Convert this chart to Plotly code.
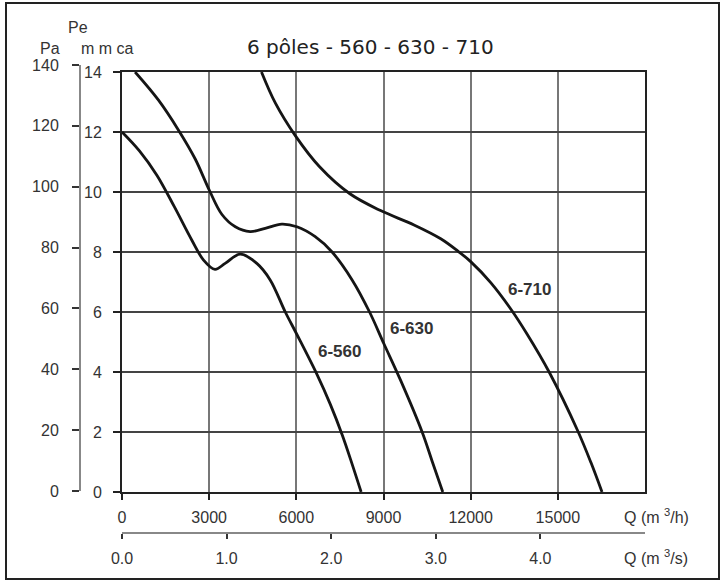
import plotly.graph_objects as go

# ---------------- data ----------------
q_560 = [0, 600, 1200, 1800, 2400, 2800, 3200, 3550, 4070, 4640, 5100, 5620, 6020, 6710, 7170, 7580, 7920, 8230]
p_560 = [12.0, 11.37, 10.56, 9.51, 8.4, 7.74, 7.42, 7.62, 7.93, 7.62, 7.07, 6.0, 5.25, 3.92, 2.92, 1.9, 0.93, 0.0]

q_630 = [450, 1250, 1940, 2520, 3010, 3440, 3900, 4410, 4930, 5500, 6020, 6650, 7230, 7920, 8520, 9010, 9590, 10330, 10680, 11040]
p_630 = [14.0, 13.07, 12.07, 11.1, 10.05, 9.25, 8.84, 8.68, 8.79, 8.93, 8.84, 8.51, 8.0, 7.07, 6.0, 4.95, 3.72, 2.0, 1.01, 0.0]

q_710 = [4800, 5280, 5970, 6800, 7830, 8900, 10050, 10970, 11560, 12000, 12690, 13380, 13950, 14700, 15680, 16140, 16520]
p_710 = [14.0, 12.96, 11.87, 10.84, 9.95, 9.38, 8.9, 8.44, 8.03, 7.68, 6.98, 6.1, 5.25, 4.0, 2.05, 0.98, 0.0]

curve_names = ["6-560", "6-630", "6-710"]
label_q = [7480, 9980, 14030]
label_p = [4.7, 5.45, 6.75]

q_h_ticks = [0, 3000, 6000, 9000, 12000, 15000]
q_s_ticks = [0.0, 1.0, 2.0, 3.0, 4.0]
mmca_ticks = [0, 2, 4, 6, 8, 10, 12, 14]
pa_ticks = [0, 20, 40, 60, 80, 100, 120, 140]

title_text = "6 pôles - 560 - 630 - 710"

# ---------------- layout geometry ----------------
W, H = 728, 582
ML, MR, MT, MB = 40, 83, 60, 49
PW = W - ML - MR
PH = H - MT - MB


def px(xp):
    return (xp - ML) / PW


def py(yp):
    return (H - MB - yp) / PH


FONT = "Liberation Sans, Arial, sans-serif"
TXT = "#333333"

fig = go.Figure()
for q, p in [(q_560, p_560), (q_630, p_630), (q_710, p_710)]:
    fig.add_trace(go.Scatter(x=q, y=p, mode="lines",
                             line=dict(color="#151515", width=2.8, shape="spline", smoothing=1.0),
                             hoverinfo="skip", showlegend=False))

# dummy traces so the secondary axes are drawn
fig.add_trace(go.Scatter(x=[None], y=[None], xaxis="x2", yaxis="y", showlegend=False))
fig.add_trace(go.Scatter(x=[None], y=[None], xaxis="x3", yaxis="y2", showlegend=False))

for name, lq, lp in zip(curve_names, label_q, label_p):
    fig.add_annotation(x=lq, y=lp, xref="x", yref="y", text="<b>" + name + "</b>",
                       xanchor="center", yanchor="middle",
                       showarrow=False, font=dict(family="Liberation Sans, Arial", size=17, color="#333"))

fig.update_layout(
    width=W, height=H,
    margin=dict(l=ML, r=MR, t=MT, b=MB),
    paper_bgcolor="white", plot_bgcolor="white",
    font=dict(family=FONT, size=16, color=TXT),
    xaxis=dict(domain=[px(122), 1.0], range=[0, 18000], anchor="y",
               tickvals=q_h_ticks, ticktext=[str(v) for v in q_h_ticks],
               showgrid=True, gridcolor="#777", gridwidth=1.5,
               showline=True, linecolor="#222", linewidth=2, mirror=True,
               ticks="outside", ticklen=6, tickwidth=1.5, tickcolor="#222",
               zeroline=False, ticklabelstandoff=4),
    yaxis=dict(domain=[py(492), py(72)], range=[0, 14], anchor="x",
               tickvals=mmca_ticks,
               showgrid=True, gridcolor="#444", gridwidth=1.5,
               showline=True, linecolor="#222", linewidth=2, mirror=True,
               ticks="outside", ticklen=7, tickwidth=1.5, tickcolor="#222",
               zeroline=False, ticklabelstandoff=8),
    xaxis2=dict(overlaying="x", anchor="free", position=0, side="bottom",
                range=[0, 5], tickvals=q_s_ticks, ticktext=["%.1f" % v for v in q_s_ticks],
                showgrid=False, zeroline=False,
                showline=True, linecolor="#888", linewidth=2,
                ticks="outside", ticklen=5, tickwidth=2, tickcolor="#333",
                ticklabelstandoff=6),
    xaxis3=dict(visible=False, domain=[0, 0.01], anchor="y2", range=[0, 1]),
    yaxis2=dict(domain=[py(491), py(65)], range=[0, 140], anchor="free", position=px(80),
                tickvals=pa_ticks, showgrid=False, zeroline=False,
                showline=True, linecolor="#888", linewidth=2,
                ticks="outside", ticklen=7, tickwidth=2, tickcolor="#333",
                ticklabelstandoff=10),
)

# outer frame
fig.add_shape(type="rect", xref="paper", yref="paper",
              x0=px(6), x1=px(719), y0=py(579), y1=py(3),
              line=dict(color="#222", width=2), fillcolor="rgba(0,0,0,0)", layer="above")

ann = dict(xref="paper", yref="paper", showarrow=False, yanchor="middle")
fig.add_annotation(x=px(370), y=py(47), xanchor="center", text=title_text,
                   font=dict(family="DejaVu Sans, Liberation Sans", size=20, color="#222"), **ann)
fig.add_annotation(x=px(78), y=py(27), xanchor="center", text="Pe", font=dict(size=16), **ann)
fig.add_annotation(x=px(50), y=py(49), xanchor="center", text="Pa", font=dict(size=16), **ann)
fig.add_annotation(x=px(107), y=py(49), xanchor="center", text="m m ca", font=dict(size=16), **ann)
fig.add_annotation(x=px(622), y=py(516), xanchor="left", text="Q (m <sup>3</sup>/h)", font=dict(size=16), **ann)
fig.add_annotation(x=px(622), y=py(557), xanchor="left", text="Q (m <sup>3</sup>/s)", font=dict(size=16), **ann)

fig.write_html("out.html")
